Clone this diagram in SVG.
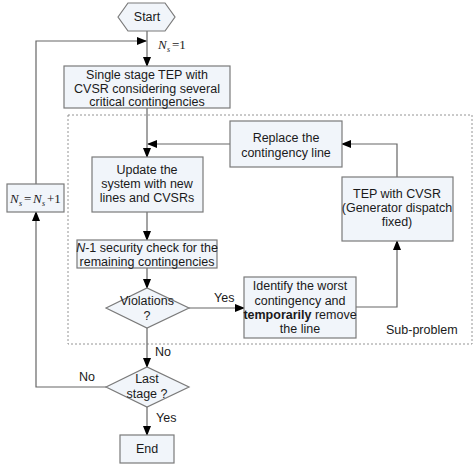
<svg xmlns="http://www.w3.org/2000/svg" width="474" height="467" viewBox="0 0 474 467">
<defs>
<marker id="ah" markerWidth="10" markerHeight="8" refX="9" refY="4" orient="auto" markerUnits="userSpaceOnUse">
<path d="M0,0 L10,4 L0,8 Z" fill="#000"/>
</marker>
<style>
.n{fill:#f1f5fa;stroke:#7a7a7a;stroke-width:1.2}
.t{font-family:"Liberation Sans",Arial,sans-serif;font-size:12.5px;fill:#1a1a1a;text-anchor:middle}
.l{font-family:"Liberation Sans",Arial,sans-serif;font-size:12.5px;fill:#1a1a1a}
.m{font-family:"Liberation Serif","Times New Roman",serif;font-size:13px;fill:#1a1a1a}
.i{font-style:italic}
.s{font-style:italic;font-size:8px}
.c{fill:none;stroke:#666;stroke-width:1.2}
.a{fill:none;stroke:#666;stroke-width:1.2;marker-end:url(#ah)}
.d{fill:none;stroke:#888;stroke-width:0.9;stroke-dasharray:2,2}
</style>
</defs>
<rect width="474" height="467" fill="#fff"/>
<g id="subproblem">
<rect class="d" x="68" y="115" width="404" height="229"/>
<text class="l" x="386" y="334">Sub-problem</text>
</g>
<g id="connectors">
<path class="a" d="M147,31 V66"/>
<path class="a" d="M36,184 V41 H146"/>
<path class="a" d="M230,144 H148"/>
<path class="a" d="M147,108 V157"/>
<path class="a" d="M147,212 V240"/>
<path class="a" d="M147,268 V288"/>
<path class="a" d="M189,308 H244"/>
<path class="a" d="M356,307 H397 V241"/>
<path class="a" d="M397,177 V144 H342"/>
<path class="a" d="M147,328 V367"/>
<path class="a" d="M147,407 V435"/>
<path class="a" d="M106,387 H36 V212"/>
<text class="l" x="214" y="302">Yes</text>
<text class="l" x="155" y="356">No</text>
<text class="l" x="79" y="381">No</text>
<text class="l" x="156" y="422">Yes</text>
<text class="m i" x="158" y="49">N</text>
<text class="m s" x="167" y="52">s</text>
<text class="m" x="172" y="49">=1</text>
</g>
<g id="start">
<polygon class="n" points="118,17 128,3 165,3 175,17 165,31 128,31"/>
<text class="t" x="147" y="21">Start</text>
</g>
<g id="stage1">
<rect class="n" x="64" y="66" width="166" height="42"/>
<text class="t" x="147" y="79">Single stage TEP with</text>
<text class="t" x="147" y="93">CVSR considering several</text>
<text class="t" x="147" y="106">critical contingencies</text>
</g>
<g id="increment">
<rect class="n" x="7" y="184" width="57" height="28"/>
<text class="m i" x="10" y="203">N</text>
<text class="m s" x="19" y="206">s</text>
<text class="m" x="24" y="203">=</text>
<text class="m i" x="33" y="203">N</text>
<text class="m s" x="42" y="206">s</text>
<text class="m" x="47" y="203">+1</text>
</g>
<g id="replace">
<rect class="n" x="230" y="121" width="112" height="46"/>
<text class="t" x="286" y="142">Replace the</text>
<text class="t" x="286" y="157">contingency line</text>
</g>
<g id="update">
<rect class="n" x="92" y="157" width="111" height="55"/>
<text class="t" x="147" y="174">Update the</text>
<text class="t" x="147" y="188">system with new</text>
<text class="t" x="147" y="202">lines and CVSRs</text>
</g>
<g id="tep">
<rect class="n" x="342" y="177" width="111" height="64"/>
<text class="t" x="397" y="198">TEP with CVSR</text>
<text class="t" x="397" y="212">(Generator dispatch</text>
<text class="t" x="397" y="226">fixed)</text>
</g>
<g id="check">
<rect class="n" x="77" y="240" width="140" height="28"/>
<text class="t" x="147" y="252"><tspan font-style="italic">N</tspan>-1 security check for the</text>
<text class="t" x="147" y="266">remaining contingencies</text>
</g>
<g id="identify">
<rect class="n" x="244" y="277" width="112" height="61"/>
<text class="t" x="300" y="290">Identify the worst</text>
<text class="t" x="300" y="305">contingency and</text>
<text class="t" x="300" y="319"><tspan font-weight="bold">temporarily</tspan> remove</text>
<text class="t" x="300" y="333">the line</text>
</g>
<g id="violations">
<polygon class="n" points="106,308 147,288 189,308 147,328"/>
<text class="t" x="147" y="305">Violations</text>
<text class="t" x="147" y="320">?</text>
</g>
<g id="last">
<polygon class="n" points="106,387 147,367 189,387 147,407"/>
<text class="t" x="147" y="383">Last</text>
<text class="t" x="147" y="398">stage ?</text>
</g>
<g id="end">
<rect class="n" x="120" y="435" width="54" height="28"/>
<text class="t" x="147" y="453">End</text>
</g>
</svg>
